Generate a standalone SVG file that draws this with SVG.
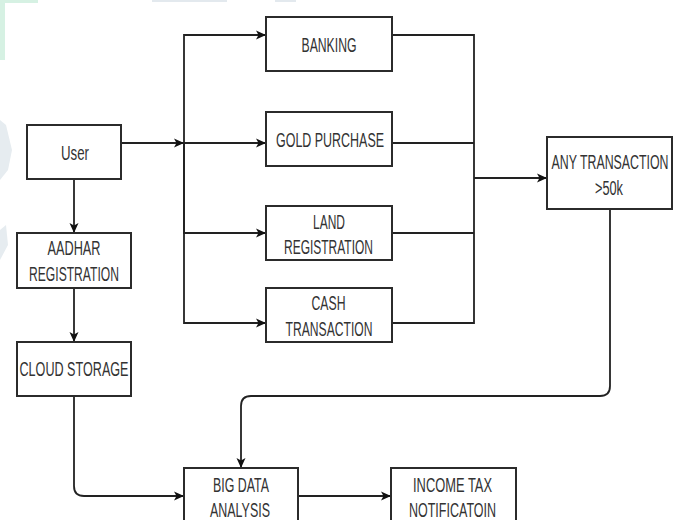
<svg xmlns="http://www.w3.org/2000/svg" width="678" height="520" viewBox="0 0 678 520">
<style>
.box{fill:#fff;stroke:#2b2b2b;stroke-width:2}
.t{font-family:"Liberation Sans",Arial,sans-serif;font-size:20px;fill:#333;text-anchor:middle;dominant-baseline:central}
.c{fill:none;stroke:#222;stroke-width:1.8}
</style>
<defs>
<marker id="ah" markerUnits="userSpaceOnUse" viewBox="0 0 10 10" refX="10" refY="5" markerWidth="10" markerHeight="10" orient="auto">
<path d="M0,0.5 L10,5 L0,9.5 L2.5,5 z" fill="#111"/>
</marker>
</defs>
<rect width="678" height="520" fill="#fff"/>
<g id="watermark">
<rect x="0" y="0" width="38" height="3" fill="#d6f1e3"/>
<rect x="0" y="0" width="5" height="60" fill="#d6f1e3"/>
<rect x="152" y="0" width="75" height="2" fill="#e3e9ee"/>
<rect x="275" y="0" width="21" height="2" fill="#e3e9ee"/>
<path d="M0,120 L6,125 L12,150 L8,170 L0,180 Z" fill="#e6ecf0"/>
<path d="M0,230 L6,225 L8,245 L0,260 Z" fill="#e6ecf0"/>
</g>
<g id="connectors">
<path class="c" d="M121,143 H184" marker-end="url(#ah)"/>
<path class="c" d="M184,143 V35 H266" marker-end="url(#ah)"/>
<path class="c" d="M184,143 H266" marker-end="url(#ah)"/>
<path class="c" d="M184,143 V233 H266" marker-end="url(#ah)"/>
<path class="c" d="M184,143 V323 H266" marker-end="url(#ah)"/>
<path class="c" d="M392,35 H474 V323 H392"/>
<path class="c" d="M392,143 H474"/>
<path class="c" d="M392,233 H474"/>
<path class="c" d="M474,178 H547" marker-end="url(#ah)"/>
<path class="c" d="M610,209 V386 Q610,396 600,396 H251 Q241,396 241,406 V468" marker-end="url(#ah)"/>
<path class="c" d="M74,179 V233" marker-end="url(#ah)"/>
<path class="c" d="M74,288 V342" marker-end="url(#ah)"/>
<path class="c" d="M74,396 V486 Q74,496 84,496 H184" marker-end="url(#ah)"/>
<path class="c" d="M298,496 H391" marker-end="url(#ah)"/>
</g>
<g id="user"><rect class="box" x="27" y="125" width="94" height="54"/><text class="t" x="75" y="153" textLength="28" lengthAdjust="spacingAndGlyphs">User</text></g>
<g id="aadhar"><rect class="box" x="17" y="233" width="114" height="55"/><text class="t" x="74" y="248" textLength="53" lengthAdjust="spacingAndGlyphs">AADHAR</text><text class="t" x="74" y="274" textLength="90" lengthAdjust="spacingAndGlyphs">REGISTRATION</text></g>
<g id="cloud"><rect class="box" x="17" y="342" width="114" height="54"/><text class="t" x="74" y="369" textLength="109" lengthAdjust="spacingAndGlyphs">CLOUD STORAGE</text></g>
<g id="banking"><rect class="box" x="266" y="17" width="126" height="54"/><text class="t" x="329" y="44.5" textLength="55" lengthAdjust="spacingAndGlyphs">BANKING</text></g>
<g id="gold"><rect class="box" x="266" y="112" width="126" height="54"/><text class="t" x="330" y="140" textLength="108" lengthAdjust="spacingAndGlyphs">GOLD PURCHASE</text></g>
<g id="land"><rect class="box" x="266" y="206" width="126" height="54"/><text class="t" x="329" y="221.5" textLength="32" lengthAdjust="spacingAndGlyphs">LAND</text><text class="t" x="328.5" y="246.5" textLength="89" lengthAdjust="spacingAndGlyphs">REGISTRATION</text></g>
<g id="cash"><rect class="box" x="266" y="288" width="126" height="54"/><text class="t" x="328.5" y="302.5" textLength="34" lengthAdjust="spacingAndGlyphs">CASH</text><text class="t" x="329" y="328.5" textLength="87" lengthAdjust="spacingAndGlyphs">TRANSACTION</text></g>
<g id="any"><rect class="box" x="547" y="137" width="125" height="72"/><text class="t" x="610" y="162" textLength="117" lengthAdjust="spacingAndGlyphs">ANY TRANSACTION</text><text class="t" x="609" y="187.5" textLength="28" lengthAdjust="spacingAndGlyphs">&gt;50k</text></g>
<g id="bigdata"><rect class="box" x="184" y="468" width="114" height="60"/><text class="t" x="241" y="484.5" textLength="56" lengthAdjust="spacingAndGlyphs">BIG DATA</text><text class="t" x="240" y="510" textLength="60" lengthAdjust="spacingAndGlyphs">ANALYSIS</text></g>
<g id="incometax"><rect class="box" x="391" y="468" width="125" height="60"/><text class="t" x="452.5" y="485" textLength="79" lengthAdjust="spacingAndGlyphs">INCOME TAX</text><text class="t" x="452.5" y="510" textLength="87" lengthAdjust="spacingAndGlyphs">NOTIFICATOIN</text></g>
</svg>
